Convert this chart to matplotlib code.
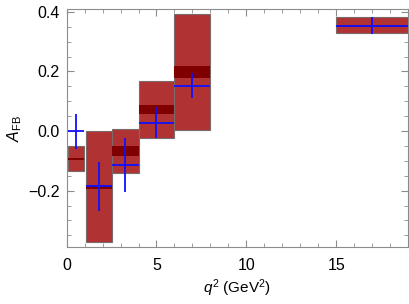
import matplotlib
matplotlib.use("Agg")
import matplotlib.pyplot as plt
import numpy as np
from matplotlib.ticker import MultipleLocator

plt.rcParams['font.family'] = ['Liberation Sans', 'DejaVu Sans']
plt.rcParams['mathtext.fontset'] = 'custom'
plt.rcParams['mathtext.rm'] = 'Liberation Sans'
plt.rcParams['mathtext.it'] = 'Liberation Sans:italic'

# q^2 bins
bin_lo = [0.1, 1.1, 2.5, 4.0, 6.0, 15.0]
bin_hi = [0.98, 2.5, 4.0, 6.0, 8.0, 19.0]
# prediction outer band
pred_lo = [-0.135, -0.372, -0.14, -0.025, 0.002, 0.328]
pred_hi = [-0.05, 0.0, 0.007, 0.169, 0.393, 0.382]
# prediction central (dark) band
cen_lo = [-0.097, -0.195, -0.085, 0.056, 0.178, 0.350]
cen_hi = [-0.091, -0.180, -0.050, 0.089, 0.218, 0.357]
# measurement
meas_x = [0.54, 1.8, 3.25, 5.0, 7.0, 17.0]
meas_y = [0.0, -0.185, -0.114, 0.028, 0.152, 0.353]
meas_up = [0.058, 0.08, 0.092, 0.052, 0.044, 0.03]
meas_dn = [0.061, 0.083, 0.09, 0.053, 0.042, 0.028]

fig = plt.figure(figsize=(4.09, 3.04), dpi=100)
ax = fig.add_axes([0.163, 0.1865, 0.8346, 0.7845])

lo = np.array(bin_lo); hi = np.array(bin_hi)
w = hi - lo
ax.bar(lo, np.array(pred_hi) - np.array(pred_lo), width=w, bottom=pred_lo, align='edge',
       color='#b13232', edgecolor='#7a6a6a', linewidth=0.8, zorder=2)
ax.bar(lo, np.array(cen_hi) - np.array(cen_lo), width=w, bottom=cen_lo, align='edge',
       color='#800000', edgecolor='none', linewidth=0, zorder=3)

ax.errorbar(meas_x, meas_y, yerr=[meas_dn, meas_up], xerr=[np.array(meas_x) - lo, hi - np.array(meas_x)],
            fmt='none', ecolor='#1010ff', elinewidth=1.3, capsize=0, zorder=4)

ax.set_xlim(0, 19)
ax.set_ylim(-0.39, 0.41)
ax.xaxis.set_major_locator(MultipleLocator(5))
ax.xaxis.set_minor_locator(MultipleLocator(1))
ax.yaxis.set_major_locator(MultipleLocator(0.2))
ax.yaxis.set_minor_locator(MultipleLocator(0.05))
ax.yaxis.set_major_formatter(matplotlib.ticker.FuncFormatter(lambda v, p: ('\u2212' if v < -1e-9 else '') + f"{abs(v):.1f}"))

for s in ax.spines.values():
    s.set_color('#8c8c8c')
    s.set_linewidth(0.8)
ax.tick_params(which='both', direction='in', top=True, right=True, color='#8c8c8c', labelsize=11.5, pad=5)
ax.tick_params(which='major', length=5)
ax.tick_params(which='minor', length=3)
ax.tick_params(axis='x', pad=8)

ax.set_xlabel(r'$q^2$ (GeV$^2$)', fontsize=11, labelpad=3)
ax.set_ylabel(r'$A_{\rm FB}$', fontsize=11.5, labelpad=3)

fig.savefig('out.png', dpi=100)
